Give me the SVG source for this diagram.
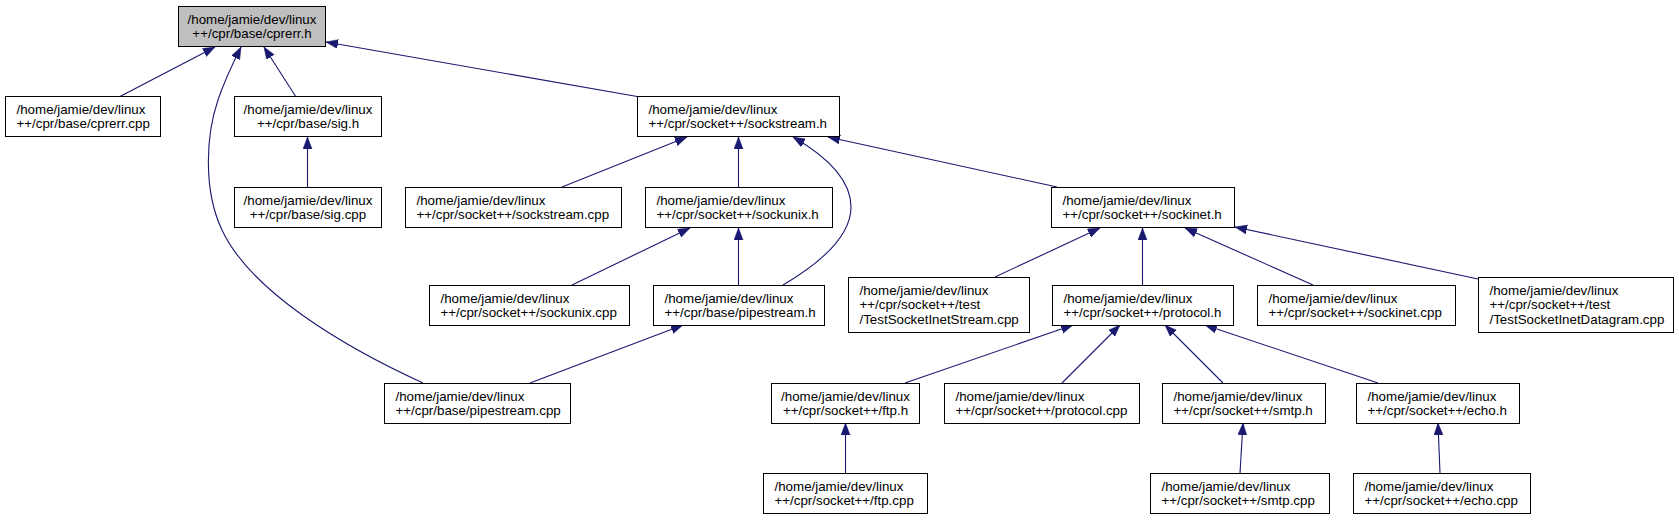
<svg xmlns="http://www.w3.org/2000/svg" width="1679" height="520" viewBox="0 0 1679 520">
<style>
  .node rect { fill: #ffffff; stroke: #000000; stroke-width: 1; }
  .node.root rect { fill: #bfbfbf; }
  .node text { font-family: "Liberation Sans", Arial, sans-serif; font-size: 13.33px; fill: #000000; }
  .c { text-anchor: middle; }
  .edges path { fill: none; stroke: #191970; stroke-width: 1.1; }
</style>
<defs>
  <marker id="arr" markerUnits="userSpaceOnUse" markerWidth="12" markerHeight="10" refX="12" refY="4.5" orient="auto">
    <path d="M0,0 L12,4.5 L0,9 z" fill="#191970" stroke="#191970" stroke-width="0.5"/>
  </marker>
</defs>
<rect width="1679" height="520" fill="#ffffff"/>
<g class="edges" marker-end="url(#arr)">
  <path d="M119,97 L215,47" marker-end="url(#arr)"/>
  <path d="M296,97 L264,47" marker-end="url(#arr)"/>
  <path d="M423,383 C340,345 250,290 222,230 C203,190 206,135 218,100 C224,82 233,63 241,47" marker-end="url(#arr)"/>
  <path d="M640,97 L326,42" marker-end="url(#arr)"/>
  <path d="M307.5,187 L307.5,137" marker-end="url(#arr)"/>
  <path d="M562,187 L687,137" marker-end="url(#arr)"/>
  <path d="M738.5,187 L738.5,137" marker-end="url(#arr)"/>
  <path d="M783,285 C822,262 851,236 851,207 C851,180 826,156 793,137" marker-end="url(#arr)"/>
  <path d="M1057,187 L828,137" marker-end="url(#arr)"/>
  <path d="M572,285 L690,228" marker-end="url(#arr)"/>
  <path d="M738.5,285 L738.5,228" marker-end="url(#arr)"/>
  <path d="M530,383 L683,325" marker-end="url(#arr)"/>
  <path d="M995,277 L1100,228" marker-end="url(#arr)"/>
  <path d="M1142.5,285 L1142.5,228" marker-end="url(#arr)"/>
  <path d="M1313,285 L1185,228" marker-end="url(#arr)"/>
  <path d="M1478,279 L1235,227" marker-end="url(#arr)"/>
  <path d="M905,383 L1073,325" marker-end="url(#arr)"/>
  <path d="M1062,383 L1120,325" marker-end="url(#arr)"/>
  <path d="M1223,383 L1165,325" marker-end="url(#arr)"/>
  <path d="M1378,383 L1205,325" marker-end="url(#arr)"/>
  <path d="M845.5,473 L845.5,423" marker-end="url(#arr)"/>
  <path d="M1240,473 L1243,423" marker-end="url(#arr)"/>
  <path d="M1440,473 L1438,423" marker-end="url(#arr)"/>
</g>
<g id="n1" class="node root"><rect x="178.5" y="6.5" width="147" height="40"/><text class="c" x="252" y="23.5">/home/jamie/dev/linux</text><text class="c" x="252" y="38">++/cpr/base/cprerr.h</text></g>
<g id="n2" class="node"><rect x="5.5" y="96.5" width="155" height="40"/><text x="16.5" y="113.5">/home/jamie/dev/linux</text><text x="16.5" y="128">++/cpr/base/cprerr.cpp</text></g>
<g id="n3" class="node"><rect x="234.5" y="96.5" width="147" height="40"/><text class="c" x="308" y="113.5">/home/jamie/dev/linux</text><text class="c" x="308" y="128">++/cpr/base/sig.h</text></g>
<g id="n4" class="node"><rect x="637.5" y="96.5" width="202" height="40"/><text x="648.5" y="113.5">/home/jamie/dev/linux</text><text x="648.5" y="128">++/cpr/socket++/sockstream.h</text></g>
<g id="n5" class="node"><rect x="234.5" y="187.5" width="147" height="40"/><text class="c" x="308" y="204.5">/home/jamie/dev/linux</text><text class="c" x="308" y="219">++/cpr/base/sig.cpp</text></g>
<g id="n6" class="node"><rect x="405.5" y="187.5" width="216" height="40"/><text x="416.5" y="204.5">/home/jamie/dev/linux</text><text x="416.5" y="219">++/cpr/socket++/sockstream.cpp</text></g>
<g id="n7" class="node"><rect x="645.5" y="187.5" width="187" height="40"/><text x="656.5" y="204.5">/home/jamie/dev/linux</text><text x="656.5" y="219">++/cpr/socket++/sockunix.h</text></g>
<g id="n8" class="node"><rect x="1051.5" y="187.5" width="183" height="40"/><text x="1062.5" y="204.5">/home/jamie/dev/linux</text><text x="1062.5" y="219">++/cpr/socket++/sockinet.h</text></g>
<g id="n9" class="node"><rect x="429.5" y="285.5" width="200" height="40"/><text x="440.5" y="302.5">/home/jamie/dev/linux</text><text x="440.5" y="317">++/cpr/socket++/sockunix.cpp</text></g>
<g id="n10" class="node"><rect x="653.5" y="285.5" width="171" height="40"/><text x="664.5" y="302.5">/home/jamie/dev/linux</text><text x="664.5" y="317">++/cpr/base/pipestream.h</text></g>
<g id="n11" class="node"><rect x="848.5" y="277.5" width="181" height="55"/><text x="859.5" y="294.5">/home/jamie/dev/linux</text><text x="859.5" y="309">++/cpr/socket++/test</text><text x="859.5" y="323.5">/TestSocketInetStream.cpp</text></g>
<g id="n12" class="node"><rect x="1052.5" y="285.5" width="181" height="40"/><text x="1063.5" y="302.5">/home/jamie/dev/linux</text><text x="1063.5" y="317">++/cpr/socket++/protocol.h</text></g>
<g id="n13" class="node"><rect x="1257.5" y="285.5" width="198" height="40"/><text x="1268.5" y="302.5">/home/jamie/dev/linux</text><text x="1268.5" y="317">++/cpr/socket++/sockinet.cpp</text></g>
<g id="n14" class="node"><rect x="1478.5" y="277.5" width="195" height="55"/><text x="1489.5" y="294.5">/home/jamie/dev/linux</text><text x="1489.5" y="309">++/cpr/socket++/test</text><text x="1489.5" y="323.5">/TestSocketInetDatagram.cpp</text></g>
<g id="n15" class="node"><rect x="384.5" y="383.5" width="186" height="40"/><text x="395.5" y="400.5">/home/jamie/dev/linux</text><text x="395.5" y="415">++/cpr/base/pipestream.cpp</text></g>
<g id="n16" class="node"><rect x="771.5" y="383.5" width="148" height="40"/><text class="c" x="845.5" y="400.5">/home/jamie/dev/linux</text><text class="c" x="845.5" y="415">++/cpr/socket++/ftp.h</text></g>
<g id="n17" class="node"><rect x="944.5" y="383.5" width="195" height="40"/><text x="955.5" y="400.5">/home/jamie/dev/linux</text><text x="955.5" y="415">++/cpr/socket++/protocol.cpp</text></g>
<g id="n18" class="node"><rect x="1162.5" y="383.5" width="163" height="40"/><text x="1173.5" y="400.5">/home/jamie/dev/linux</text><text x="1173.5" y="415">++/cpr/socket++/smtp.h</text></g>
<g id="n19" class="node"><rect x="1356.5" y="383.5" width="163" height="40"/><text x="1367.5" y="400.5">/home/jamie/dev/linux</text><text x="1367.5" y="415">++/cpr/socket++/echo.h</text></g>
<g id="n20" class="node"><rect x="763.5" y="473.5" width="164" height="40"/><text x="774.5" y="490.5">/home/jamie/dev/linux</text><text x="774.5" y="505">++/cpr/socket++/ftp.cpp</text></g>
<g id="n21" class="node"><rect x="1150.5" y="473.5" width="179" height="40"/><text x="1161.5" y="490.5">/home/jamie/dev/linux</text><text x="1161.5" y="505">++/cpr/socket++/smtp.cpp</text></g>
<g id="n22" class="node"><rect x="1353.5" y="473.5" width="177" height="40"/><text x="1364.5" y="490.5">/home/jamie/dev/linux</text><text x="1364.5" y="505">++/cpr/socket++/echo.cpp</text></g>
</svg>
